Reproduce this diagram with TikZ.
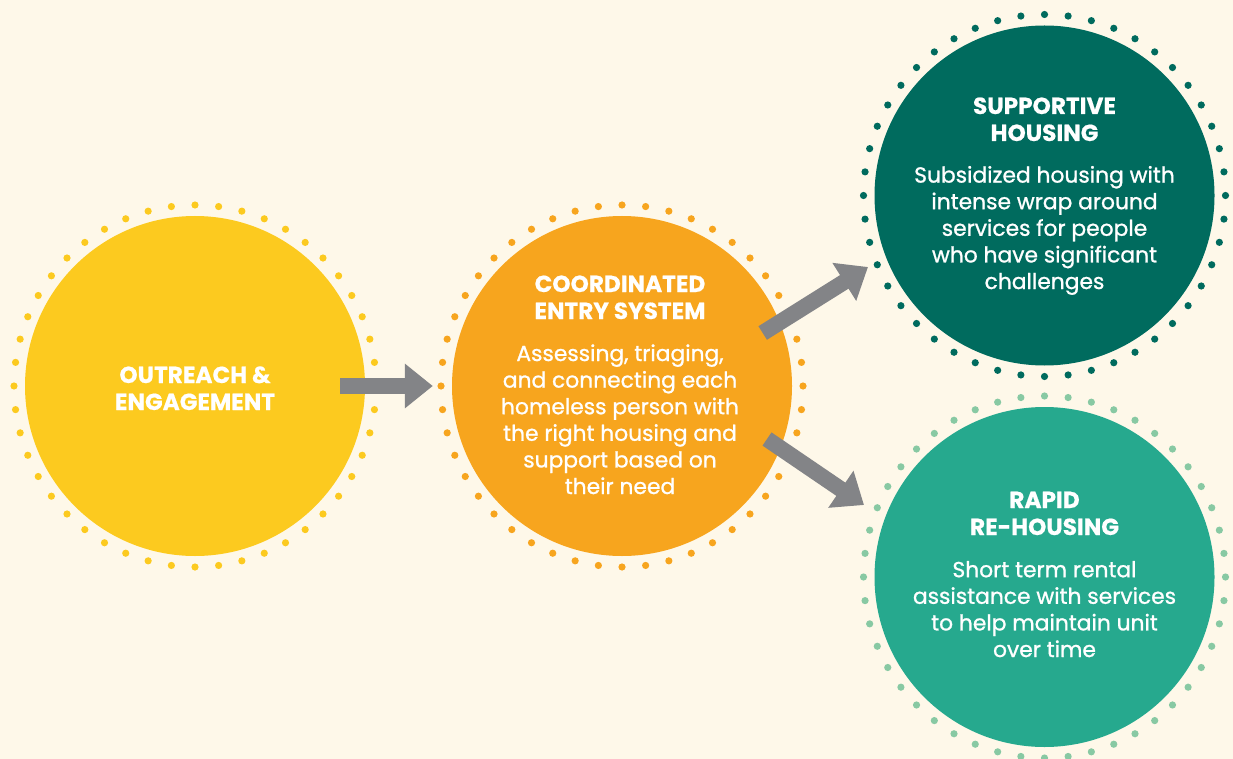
\documentclass[tikz,border=0pt]{standalone}
\usepackage{fontspec}
\setmainfont{Poppins}[BoldFeatures={FakeBold=0.6}]
\newfontfamily\bodyfont{Poppins}[FakeBold=1.0]
\usetikzlibrary{arrows.meta,calc}
\definecolor{bgc}{HTML}{FEF8E9}
\definecolor{yel}{HTML}{FCCA1F}
\definecolor{ora}{HTML}{F7A51E}
\definecolor{dgr}{HTML}{006B5E}
\definecolor{tea}{HTML}{26A98E}
\definecolor{lgr}{HTML}{88C9A3}
\definecolor{gry}{HTML}{838487}
\tikzset{
  disc/.style={circle, fill=#1, minimum size=340pt, inner sep=0pt},
  titletext/.style={text=white, align=center, anchor=base, font=\fontsize{23.2}{27}\selectfont\bfseries},
  bodytext/.style={text=white, align=center, anchor=base, font=\fontsize{21.8}{26.6}\selectfont\bodyfont},
  arr/.style={draw=gry, line width=16pt, -{Triangle[length=28pt,width=43pt]}}
}
\newcommand{\dotring}[2]{%
  \foreach \k in {0,...,47}{\fill[#2] ($(#1.center)+({\k*7.5}:181pt)$) circle (3.6pt);}}
\begin{document}
\begin{tikzpicture}[x=1pt,y=-1pt]
\fill[bgc] (0,0) rectangle (1233,759);
\useasboundingbox (0,0) rectangle (1233,759);
\node[disc=yel] (c1) at (195,386) {};
\node[disc=ora] (c2) at (622,386) {};
\node[disc=dgr] (c3) at (1044.5,195.5) {};
\node[disc=tea] (c4) at (1044.5,577) {};
\dotring{c1}{yel}
\dotring{c2}{ora}
\dotring{c3}{dgr}
\dotring{c4}{lgr}
\node[titletext] (t1) at (195,410) {OUTREACH \&\\ENGAGEMENT};
\node[titletext] (t2) at (620,319) {COORDINATED\\ENTRY SYSTEM};
\node[bodytext] (b2) at (620,494) {Assessing, triaging,\\and connecting each\\homeless person with\\the right housing and\\support based on\\their need};
\node[titletext] (t3) at (1044.5,141) {SUPPORTIVE\\HOUSING};
\node[bodytext] (b3) at (1044.5,289) {Subsidized housing with\\intense wrap around\\services for people\\who have significant\\challenges};
\node[titletext] (t4) at (1044.5,535) {RAPID\\RE-HOUSING};
\node[bodytext] (b4) at (1044.5,657) {Short term rental\\assistance with services\\to help maintain unit\\over time};
\draw[arr] ($(c1.east)+(-25,0)$) -- ($(c2.west)+(-19,0)$);
\draw[arr] ($(c2.center)+(140.7,-53)$) -- ($(c3.center)+(-176.5,71.5)$);
\draw[arr] ($(c2.center)+(145,53)$) -- ($(c4.center)+(-180.5,-72)$);
\end{tikzpicture}
\end{document}
